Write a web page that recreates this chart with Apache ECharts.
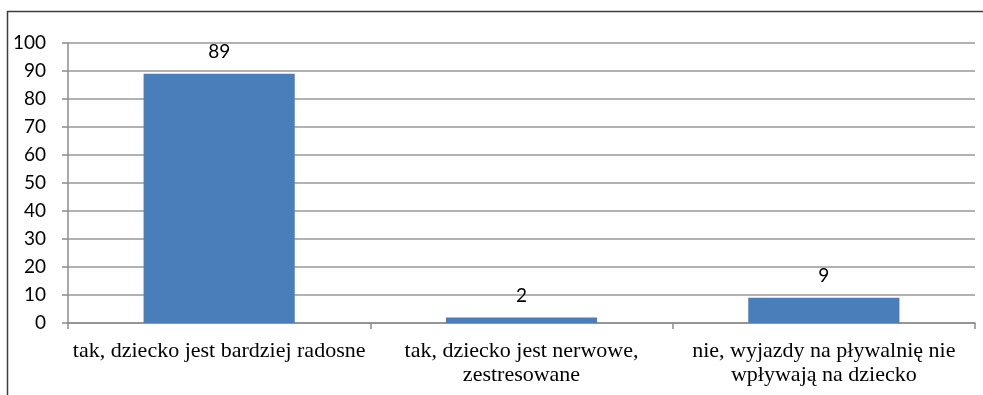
<!DOCTYPE html>
<html><head><meta charset="utf-8">
<script src="https://cdn.jsdelivr.net/npm/echarts@6/dist/echarts.min.js"></script>
<style>html,body{margin:0;padding:0;background:#fff}#c{width:983px;height:395px}</style>
</head><body><div id="c"></div>
<script>
var categories = ["tak, dziecko jest bardziej radosne", "tak, dziecko jest nerwowe,\nzestresowane", "nie, wyjazdy na pływalnię nie\nwpływają na dziecko"];
var values = [89, 2, 9];
var yTicks = [0, 10, 20, 30, 40, 50, 60, 70, 80, 90, 100];

var chart = echarts.init(document.getElementById('c'), null, {renderer: 'canvas'});
chart.setOption({
  animation: false,
  backgroundColor: '#fff',
  graphic: [{type: 'rect', shape: {x: 7.5, y: 11.5, width: 1100, height: 600}, style: {fill: 'none', stroke: '#3c3c3c', lineWidth: 1.5}, silent: true, z: -1}],
  grid: {left: 68, right: 8, top: 43, bottom: 72, containLabel: false},
  xAxis: {
    type: 'category', data: categories,
    axisLine: {lineStyle: {color: '#8c8c8c', width: 1.5}},
    axisTick: {show: true, length: 6, lineStyle: {color: '#8c8c8c', width: 1.5}},
    axisLabel: {fontFamily: 'Liberation Serif', fontSize: 22, color: '#000', margin: 16, lineHeight: 24, interval: 0}
  },
  yAxis: {
    type: 'value', min: yTicks[0], max: yTicks[yTicks.length - 1], interval: 10,
    axisLine: {show: true, lineStyle: {color: '#8c8c8c', width: 1.5}},
    axisTick: {show: true, length: 6, lineStyle: {color: '#8c8c8c', width: 1.5}},
    splitLine: {lineStyle: {color: '#989898', width: 1.5}},
    axisLabel: {fontFamily: 'Lato', fontSize: 19, color: '#000', margin: 22}
  },
  series: [{
    type: 'bar', data: values, barWidth: '50%',
    itemStyle: {color: '#4a7ebb'},
    label: {show: true, position: 'top', distance: 12, fontFamily: 'Lato', fontSize: 19, color: '#000'}
  }]
});
</script></body></html>
